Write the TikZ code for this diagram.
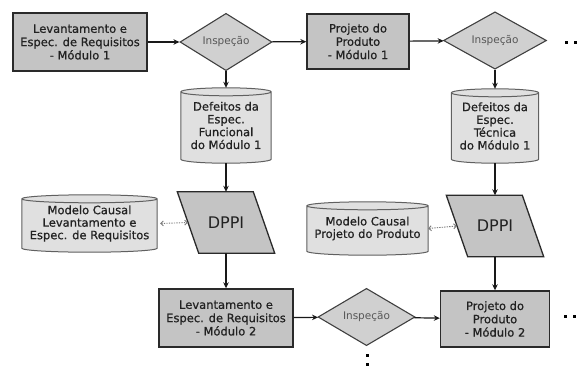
\documentclass[tikz,border=0pt]{standalone}
\usepackage{fontspec}
\setmainfont{DejaVu Sans}
\newfontfamily\semib[FakeBold=0.7]{DejaVu Sans}
\usetikzlibrary{shapes.geometric,arrows.meta,backgrounds,calc}
\definecolor{boxfill}{HTML}{C4C4C4}
\definecolor{boxline}{HTML}{2A2A2A}
\definecolor{cylfill}{HTML}{E0E0E0}
\definecolor{cylline}{HTML}{606060}
\definecolor{diafill}{HTML}{D0D0D0}
\definecolor{dialine}{HTML}{404040}
\definecolor{txt}{HTML}{222222}
\definecolor{dottedline}{HTML}{7A7A7A}
\newcommand\mycyl[1]{%
  \path[draw=cylline,fill=cylfill,line width=1pt]
    let \p1=(#1.north west), \p2=(#1.south east), \n1={(\x2-\x1)/2} in
    (\x1,\y1-4pt) -- (\x1,\y2+4pt)
    arc[start angle=180,end angle=360,x radius=\n1,y radius=4pt]
    -- (\x2,\y1-4pt)
    arc[start angle=0,end angle=180,x radius=\n1,y radius=4pt] -- cycle
    (\x1,\y1-4pt) arc[start angle=180,end angle=360,x radius=\n1,y radius=4pt];}
\newcommand\mypar[2]{% name, row width
  \draw[draw=boxline,fill=boxfill,line width=1.3pt,line join=miter]
    (#1.north west) -- ++(#2,0) -- (#1.south east) -- ++(-#2,0) -- cycle;}
\begin{document}
\begin{tikzpicture}[x=1pt,y=1pt,
  every node/.style={text=txt,font=\semib\fontsize{11.5}{13.3}\selectfont,align=center,inner sep=0pt},
  procbox/.style={rectangle,draw=boxline,fill=boxfill,line width=1.4pt},
  insp/.style={diamond,draw=dialine,fill=diafill,line width=1.1pt,
     font=\fontsize{10.5}{12}\selectfont,text=black!66},
  store/.style={rectangle},
  dppibox/.style={rectangle,font=\fontsize{16}{18}\selectfont},
  flow/.style={-{Stealth[length=6pt,width=5.5pt]},line width=1.2pt,black!90},
  link/.style={{Straight Barb[length=2.5pt,width=5pt]}-{Straight Barb[length=2.5pt,width=5pt]},
     dottedline,line width=0.9pt,dash pattern=on 1.3pt off 1.2pt},
  dotmark/.style={fill=black,inner sep=0pt,minimum size=3pt,rectangle}]
\useasboundingbox (0,0) rectangle (577,-372);

% row 1
\node[procbox,minimum width=134,minimum height=58] (b1) at (80,-42)
  {Levantamento e\\Espec. de Requisitos\\- Módulo 1};
\node[insp,minimum width=92,minimum height=47] (i1) at (226,-42) {Inspeção};
\node[procbox,minimum width=102,minimum height=55] (b2) at (358,-41.5)
  {Projeto do\\Produto\\- Módulo 1};
\node[insp,minimum width=103,minimum height=45] (i2) at (495,-40.5) {Inspeção};
\node[dotmark] (p1) at (566,-42) {};
\node[dotmark] (p2) at (575,-42) {};

% stores
\node[store,minimum width=90,minimum height=75] (c1) at (226,-125.5)
  {\raisebox{-3pt}{\parbox{90pt}{\centering\semib\fontsize{11.5}{12.8}\selectfont Defeitos da\\Espec.\\Funcional\\do Módulo 1}}};
\node[store,minimum width=87,minimum height=74] (c2) at (495,-126)
  {\raisebox{-3pt}{\parbox{87pt}{\centering\semib\fontsize{11.5}{12.8}\selectfont Defeitos da\\Espec.\\Técnica\\do Módulo 1}}};

% DPPI
\node[dppibox,minimum width=97,minimum height=61] (d1) at (226,-222.5) {DPPI};
\node[dppibox,minimum width=97,minimum height=61] (d2) at (495,-226) {DPPI};

% causal models
\node[store,minimum width=135,minimum height=57] (m1) at (89.5,-223.5)
  {\raisebox{-2pt}{\parbox{135pt}{\centering\semib\fontsize{11.5}{12.5}\selectfont Modelo Causal\\Levantamento e\\Espec. de Requisitos}}};
\node[store,minimum width=121,minimum height=53] (m2) at (367.5,-228.5)
  {\raisebox{-2pt}{\parbox{121pt}{\centering\semib\fontsize{11.5}{12.5}\selectfont Modelo Causal\\Projeto do Produto}}};

% row 3
\node[procbox,minimum width=134,minimum height=58] (b3) at (226,-318)
  {Levantamento e\\Espec. de Requisitos\\- Módulo 2};
\node[insp,minimum width=97,minimum height=48] (i3) at (366.5,-317) {Inspeção};
\node[procbox,minimum width=109,minimum height=56] (b4) at (495,-319)
  {Projeto do\\Produto\\- Módulo 2};
\node[dotmark] (p3) at (565,-316) {};
\node[dotmark] (p4) at (574,-316) {};
\node[dotmark] (p5) at (367,-355) {};
\node[dotmark] (p6) at (367,-364) {};

\begin{scope}[on background layer]
  \mycyl{c1}\mycyl{c2}\mycyl{m1}\mycyl{m2}
  \mypar{d1}{76}\mypar{d2}{76}
\end{scope}

\coordinate (d1in) at ($(d1.west)+(10.5,0)$);
\coordinate (d2in) at ($(d2.west)+(10.5,0)$);
\coordinate (m1out) at ($(m1.east)+(3,0)$);

% connectors
\draw[flow] (b1) -- (i1);
\draw[flow] (i1) -- (b2);
\draw[flow] (b2) -- (i2);
\draw[flow] (i1) -- (c1);
\draw[flow] (c1) -- (d1);
\draw[flow] (d1) -- (b3);
\draw[flow] (i2) -- (c2);
\draw[flow] (c2) -- (d2);
\draw[flow] (d2) -- (b4);
\draw[flow] (b3) -- (i3);
\draw[flow] (i3) -- (b4);
\draw[link] (m1out) -- (d1in);
\draw[link] (m2.east) -- (d2in);
\end{tikzpicture}
\end{document}
